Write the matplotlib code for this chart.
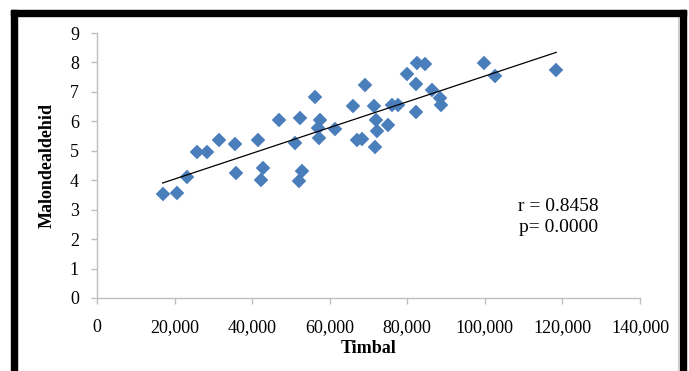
import numpy as np
import matplotlib
matplotlib.use("Agg")
import matplotlib.pyplot as plt
from matplotlib.patches import Rectangle
from matplotlib.ticker import FuncFormatter

# Data
timbal = [16900, 20500, 23300, 25900, 28400, 31500, 35600, 35800, 41400, 42700,
          42300, 47000, 51000, 52300, 52800, 52100, 56200, 57500, 57100, 57300,
          61400, 66100, 67000, 68400, 69100, 71500, 71900, 72300, 71800, 75100,
          76000, 77700, 80000, 82400, 84600, 82300, 86300, 88400, 88600, 82200,
          99800, 102600, 118400]
malondealdehid = [3.53, 3.58, 4.12, 4.97, 4.96, 5.36, 5.24, 4.24, 5.35, 4.41,
                  4.00, 6.03, 5.28, 6.11, 4.33, 3.99, 6.81, 6.03, 5.77, 5.45,
                  5.73, 6.51, 5.37, 5.40, 7.24, 6.52, 6.05, 5.66, 5.12, 5.89,
                  6.55, 6.54, 7.61, 7.98, 7.94, 7.26, 7.08, 6.79, 6.56, 6.33,
                  7.98, 7.53, 7.74]
x_ticks = [0, 20000, 40000, 60000, 80000, 100000, 120000, 140000]
y_ticks = [0, 1, 2, 3, 4, 5, 6, 7, 8, 9]
stats_text = ["r = 0.8458", "p= 0.0000"]

plt.rcParams['font.family'] = ['Liberation Serif', 'DejaVu Serif']

W, H = 689, 371
fig = plt.figure(figsize=(W / 100, H / 100), dpi=100)
ax = fig.add_axes([97 / W, 1 - 298 / H, (640 - 97) / W, (298 - 33) / H])

x = np.array(timbal, dtype=float)
y = np.array(malondealdehid, dtype=float)
ax.plot(x, y, linestyle='none', marker='D', ms=7.2, color='#4A7EBB',
        markeredgecolor='#4A7EBB', markeredgewidth=0.3, zorder=3)

coef = np.polyfit(x, y, 1)
xl = np.array([x.min(), x.max()])
ax.plot(xl, np.polyval(coef, xl), color='black', lw=0.9, zorder=4)

ax.set_xlim(0, 140000)
ax.set_ylim(0, 9)
ax.set_xticks(x_ticks)
ax.set_yticks(y_ticks)
ax.xaxis.set_major_formatter(FuncFormatter(lambda v, p: f"{int(v):,}"))

for s in ['top', 'right']:
    ax.spines[s].set_visible(False)
for s in ['left', 'bottom']:
    ax.spines[s].set_color('#BFBFBF')
    ax.spines[s].set_linewidth(1.0)
ax.tick_params(axis='both', colors='#BFBFBF', length=4, width=1.0,
               labelcolor='black', labelsize=13)
ax.tick_params(axis='x', pad=11)
ax.tick_params(axis='y', pad=9)

ax.set_xlabel('Timbal', fontsize=13, fontweight='bold', labelpad=3)
ax.set_ylabel('Malondealdehid', fontsize=13, fontweight='bold', labelpad=10)

ax.text(0.775, 0.328, stats_text[0], transform=ax.transAxes,
        fontsize=14, ha='left', va='baseline')
ax.text(0.777, 0.249, stats_text[1], transform=ax.transAxes,
        fontsize=14, ha='left', va='baseline')

# black frame and grey chart border
fig.patches.append(Rectangle((11 / W, 0), 6 / W, 1 - 10 / H, transform=fig.transFigure,
                             color='black', zorder=10))
fig.patches.append(Rectangle((11 / W, 1 - 16 / H), (686 - 11) / W, 6 / H,
                             transform=fig.transFigure, color='black', zorder=10))
fig.patches.append(Rectangle((680 / W, 0), 6 / W, 1 - 10 / H, transform=fig.transFigure,
                             color='black', zorder=10))
fig.add_artist(plt.Line2D([678 / W, 678 / W], [0, 1 - 16 / H], transform=fig.transFigure,
                          color='#D0D0D0', lw=0.8))

fig.savefig('out.png', dpi=100)
